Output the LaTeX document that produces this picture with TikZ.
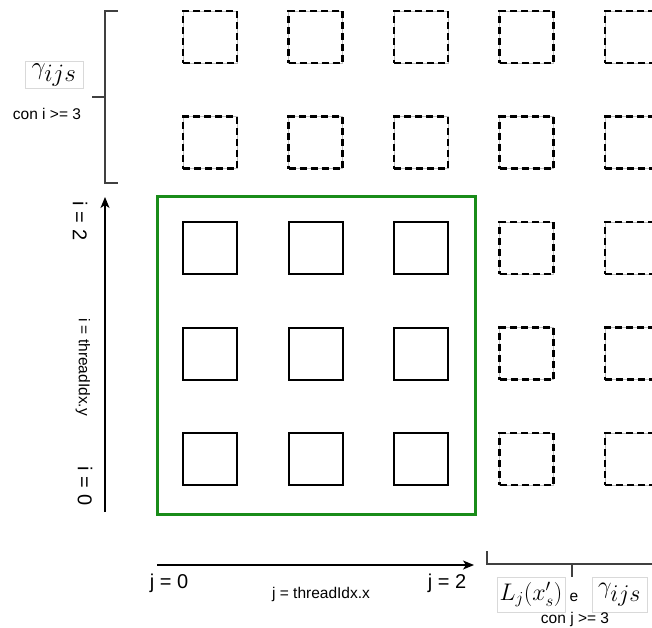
\documentclass[tikz,border=0pt]{standalone}
\usepackage{fix-cm}
\usepackage{fontspec}
\setmainfont{Liberation Sans}
\usetikzlibrary{arrows.meta}
\definecolor{blkgreen}{RGB}{25,140,25}
\begin{document}
\begin{tikzpicture}[x=1pt,y=-1pt,
  sq/.style={draw=black, line width=2pt, minimum width=54pt, minimum height=52pt, inner sep=0pt, outer sep=0pt, anchor=north west},
  dsq/.style={preaction={draw=black!25, line width=0.8pt, solid}, draw=black, line width=2.8pt, dash pattern=on 7pt off 4pt, minimum width=54pt, minimum height=52pt, inner sep=0pt, outer sep=0pt, anchor=north west},
  lbl/.style={font=\fontsize{20}{24}\selectfont, inner sep=0pt},
  sm/.style={font=\fontsize{15.5}{18}\selectfont, inner sep=0pt},
  mbox/.style={draw=black!15, line width=0.8pt, inner sep=0pt},
  brk/.style={draw=black!75, line width=1.6pt},
  axis/.style={draw=black, line width=1.5pt, -{Stealth[length=11pt,width=9pt,inset=3pt]}},
]
\useasboundingbox (0,0) rectangle (652,627);
\clip (0,0) rectangle (652,627);

% thread block
\node[draw=blkgreen, line width=2.5pt, minimum width=318pt, minimum height=318pt, inner sep=0pt, anchor=north west] (blk) at (156,195) {};

% solid squares (active threads)
\foreach \c/\x in {0/183,1/288.5,2/394}{
  \foreach \r/\y in {0/433,1/327.5,2/222}{
    \node[sq] (t\r\c) at (\x,\y) {};
  }
}
% dashed squares: upper rows
\foreach \c/\x in {0/183,1/288.5,2/394,3/499.5,4/605}{
  \foreach \r/\y in {3/116.5,4/11}{
    \node[dsq] (d\r\c) at (\x,\y) {};
  }
}
% dashed squares: right columns
\foreach \c/\x in {3/499.5,4/605}{
  \foreach \r/\y in {0/433,1/327.5,2/222}{
    \node[dsq] (d\r\c) at (\x,\y) {};
  }
}

% top-left bracket
\coordinate (bt) at (118,11);
\coordinate (bb) at (118,183);
\coordinate (bm) at (105,97);
\coordinate (bl) at (92,97);
\draw[brk] (bt) -- (105,11) -- (105,183) -- (bb);
\draw[brk] (bm) -- (bl);
\node[mbox, minimum width=58pt, minimum height=27pt, font=\fontsize{25}{28}\selectfont] (g1) at (54,75) {$\gamma_{\textstyle ijs}$};
\node[sm] (c1) at (47,114) {con i >= 3};

% vertical axis
\coordinate (ya) at (105,512);
\coordinate (yb) at (105,197);
\draw[axis] (ya) -- (yb);
\node[lbl, rotate=-90] (i2) at (80,221) {i = 2};
\node[sm, rotate=-90] (iy) at (83,367) {i = threadIdx.y};
\node[lbl, rotate=-90] (i0) at (85,486) {i = 0};

% horizontal axis
\coordinate (xa) at (157,565);
\coordinate (xb) at (474,565);
\draw[axis] (xa) -- (xb);
\node[lbl] (j0) at (169,583) {j = 0};
\node[sm] (jx) at (321,594) {j = threadIdx.x};
\node[lbl] (j2) at (447,583) {j = 2};

% bottom-right bracket
\coordinate (rb) at (487,551);
\coordinate (rm) at (572,564);
\coordinate (rt) at (572,577);
\draw[brk] (rb) -- (487,564) -- (660,564);
\draw[brk] (rm) -- (rt);
\node[mbox, minimum width=68pt, minimum height=35pt, font=\fontsize{24}{28}\selectfont] (lj) at (531,594.5) {$L_j(x'_s)$};
\node[sm] (e) at (574,597) {e};
\node[mbox, minimum width=55pt, minimum height=35pt, font=\fontsize{24}{28}\selectfont] (g2) at (619.5,594.5) {$\gamma_{\textstyle ijs}$};
\node[sm] (c2) at (575,619) {con j >= 3};
\end{tikzpicture}
\end{document}
